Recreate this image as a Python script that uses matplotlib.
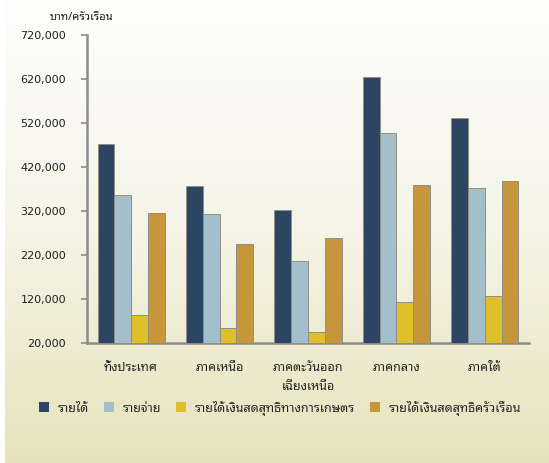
import numpy as np
import matplotlib
matplotlib.use("Agg")
import matplotlib.pyplot as plt
from matplotlib.colors import LinearSegmentedColormap
from matplotlib.patches import Patch

THAI = ['Noto Sans Thai Looped', 'DejaVu Sans']
plt.rcParams['font.family'] = ['DejaVu Sans', 'Noto Sans Thai Looped']

# data (บาท/ครัวเรือน)
regions = ['ทั้งประเทศ', 'ภาคเหนือ', 'ภาคตะวันออก\nเฉียงเหนือ', 'ภาคกลาง', 'ภาคใต้']
income = [472000, 377000, 322000, 625000, 532000]
expense = [357000, 313000, 206000, 497000, 372000]
farm_cash = [83000, 54000, 45000, 114000, 127000]
household_cash = [316000, 245000, 259000, 379000, 389000]
series_names = ['รายได้', 'รายจ่าย', 'รายได้เงินสดสุทธิทางการเกษตร', 'รายได้เงินสดสุทธิครัวเรือน']
colors = ['#2c4563', '#a3bfcc', '#e0c02a', '#c8963a']
yticks = [20000, 120000, 220000, 320000, 420000, 520000, 620000, 720000]

fig = plt.figure(figsize=(5.49, 4.63), dpi=100)

# gradient background
bg = fig.add_axes([5 / 549, 0, 1 - 5 / 549, 1], zorder=-10)
cmap = LinearSegmentedColormap.from_list('bg', ['#fefefd', '#f5f4e6', '#e6e3bc'])
bg.imshow(np.linspace(0, 1, 256).reshape(-1, 1), aspect='auto', cmap=cmap,
          extent=[0, 1, 0, 1])
bg.axis('off')

ax = fig.add_axes([87 / 549, 1 - 343 / 463, 442 / 549, 308 / 463])
ax.patch.set_alpha(0)

x = np.arange(len(regions))
w = 0.19
data = [income, expense, farm_cash, household_cash]
for i, (vals, c, name) in enumerate(zip(data, colors, series_names)):
    ax.bar(x + (i - 1.5) * w, np.array(vals) - yticks[0], w, bottom=yticks[0],
           color=c, edgecolor='#8f8f86', linewidth=0.7, label=name, zorder=3)

ax.set_xlim(-0.5, len(regions) - 0.5)
ax.set_ylim(yticks[0], yticks[-1])
ax.set_yticks(yticks)
ax.set_yticklabels([f'{v:,}' for v in yticks], fontsize=8, color='#1e1e1e')
ax.set_xticks(x)
ax.set_xticklabels(regions, fontsize=9, color='#262626', linespacing=1.6,
                   family=THAI)
ax.tick_params(axis='x', length=0, pad=13)
ax.tick_params(axis='y', length=4, width=1.2, color='#8c8c8c', pad=11)
for s in ['top', 'right']:
    ax.spines[s].set_visible(False)
for s in ['left', 'bottom']:
    ax.spines[s].set_color('#8c8c8c')
    ax.spines[s].set_linewidth(1.8)

fig.text(82 / 549, 1 - 17 / 463, 'บาท/ครัวเรือน', ha='center', va='center',
         fontsize=8, color='#1e1e1e', family=THAI)

handles = [Patch(facecolor=c, edgecolor='none') for c in colors]
fig.legend(handles, series_names, loc='center', bbox_to_anchor=(280 / 549, 1 - 408 / 463),
           ncol=4, frameon=False, handlelength=0.8, handleheight=0.8,
           handletextpad=0.7, columnspacing=1.2,
           prop={'family': THAI, 'size': 9}, labelcolor='#262626')

fig.savefig('out.png', dpi=100)
